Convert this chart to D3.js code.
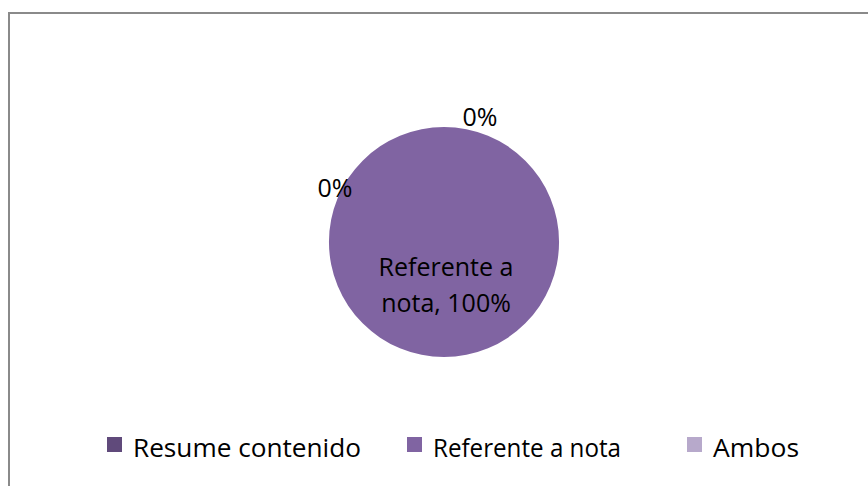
<!DOCTYPE html>
<html>
<head>
<meta charset="utf-8">
<script src="https://cdn.jsdelivr.net/npm/d3@7"></script>
<style>
  html, body { margin: 0; padding: 0; background: #fff; }
  svg { display: block; }
  text { font-family: "Open Sans", "Liberation Sans", sans-serif; fill: #000; }
</style>
</head>
<body>
<svg id="chart" width="868" height="486"></svg>
<script>
// Chart data
const categories = ["Resume contenido", "Referente a nota", "Ambos"];
const values = [0, 100, 0];
const colors = ["#604A7B", "#8064A2", "#B7A9CB"];

const W = 868, H = 486;
const svg = d3.select("#chart");

// Chart area frame (runs past the right and bottom edges)
svg.append("rect")
  .attr("x", 9).attr("y", 13)
  .attr("width", W + 20).attr("height", H + 20)
  .attr("fill", "#fff")
  .attr("stroke", "#8a8a8a")
  .attr("stroke-width", 2);

const cx = 444, cy = 242, R = 115;
const g = svg.append("g").attr("transform", `translate(${cx},${cy})`);

const pie = d3.pie().sort(null).value(d => d)
  .startAngle(0).endAngle(2 * Math.PI);
const arcs = pie(values);

const arc = d3.arc().innerRadius(0).outerRadius(R);
const total = d3.sum(values);
const pct = v => Math.round(v / total * 100) + "%";

g.selectAll("path.slice")
  .data(arcs)
  .join("path")
  .attr("class", "slice")
  .attr("d", arc)
  .attr("fill", (d, i) => colors[i]);

const FS = 25;

// Data labels
const innerArc = d3.arc().innerRadius(52).outerRadius(52);
const outerArc = d3.arc().innerRadius(R + 12).outerRadius(R + 12);

arcs.forEach((d, i) => {
  if (d.value > 0) {
    const [x, y] = innerArc.centroid(d);
    const t = g.append("text")
      .attr("text-anchor", "middle")
      .attr("font-size", FS);
    t.append("tspan").attr("x", x + 2).attr("y", y - 18)
      .text("Referente a");
    t.append("tspan").attr("x", x + 2).attr("y", y + 18)
      .text(categories[i].replace("Referente a ", "") + ", " + pct(d.value));
  }
});

// Zero-value labels: first one nudged to the upper left, last one above
const zeroLabels = arcs.filter(d => d.value === 0);
const nudges = [[-109, 82], [36, 11]];
zeroLabels.forEach((d, k) => {
  const [x, y] = outerArc.centroid(d);
  g.append("text")
    .attr("x", x + nudges[k][0])
    .attr("y", y + nudges[k][1])
    .attr("text-anchor", "middle")
    .attr("font-size", FS)
    .text(pct(d.value));
});

// Legend
const legendX = [107, 407, 687];
const legendW = [228, 188, 86];
const legend = svg.append("g");
categories.forEach((c, i) => {
  legend.append("rect")
    .attr("x", legendX[i]).attr("y", 437)
    .attr("width", 15).attr("height", 15)
    .attr("fill", colors[i]);
  legend.append("text")
    .attr("x", legendX[i] + 26).attr("y", 457)
    .attr("font-size", FS)
    .attr("textLength", legendW[i])
    .attr("lengthAdjust", "spacingAndGlyphs")
    .text(c);
});
</script>
</body>
</html>
